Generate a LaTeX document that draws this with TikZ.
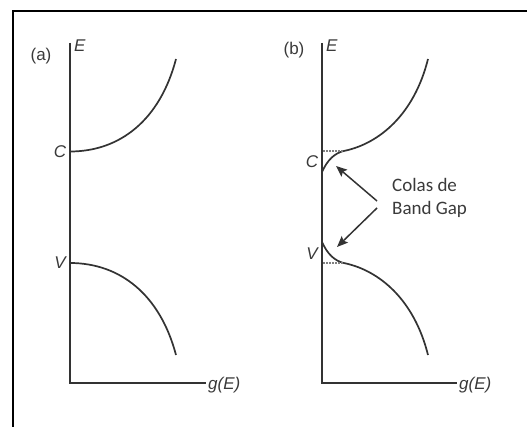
\documentclass[tikz,border=0pt]{standalone}
\usepackage{fontspec}
\setmainfont{Liberation Sans}
\newfontfamily\calfont{Carlito}
\usetikzlibrary{arrows.meta}
\definecolor{ink}{HTML}{333333}
\definecolor{txt}{HTML}{3A3A3A}
\tikzset{
  axisline/.style={draw=ink,line width=1.8pt},
  band/.style={draw=ink,line width=1.7pt},
  tailmark/.style={draw=gray,line width=1.3pt,dash pattern=on 1.5pt off 1.5pt},
  lbl/.style={text=txt,font=\fontsize{17}{20}\selectfont\itshape,inner sep=0pt},
  plbl/.style={text=txt,font=\fontsize{17}{20}\selectfont,inner sep=0pt},
  note/.style={text=txt,font=\calfont\fontsize{19}{23.5}\selectfont,align=left,inner sep=0pt},
  pointer/.style={draw=ink,line width=1.5pt,-{Stealth[length=11pt,width=9pt,inset=2pt]}}
}
\begin{document}
\begin{tikzpicture}[x=1pt,y=-1pt]
\useasboundingbox (0,0) rectangle (527,427);
% frame
\coordinate (f1) at (13,427);
\coordinate (f2) at (13,11);
\coordinate (f3) at (527,11);
\draw[line width=2.8pt,black] (f1) -- (f2) -- (f3);

% ---------- panel (a)
\coordinate (a0) at (70,383);
\coordinate (aT) at (70,43);
\coordinate (aR) at (206,383);
\draw[axisline] (aT) -- (a0) -- (aR);
\node[plbl] (alab) at (41,56) {(a)};
\node[lbl,anchor=west] (aE) at (74,46) {E};
\node[lbl,anchor=west] (ag) at (208,385) {g(E)};
\node[lbl] (aC) at (60,152) {C};
\node[lbl] (aV) at (60,263) {V};
\coordinate (aCb) at (70,151.5);
\coordinate (aCe) at (176,59);
\coordinate (aVb) at (70,263);
\coordinate (aVe) at (176,355);
\draw[band] (aCb) .. controls (120,151.5) and (160,120) .. (aCe);
\draw[band] (aVb) .. controls (120,263) and (160,294.5) .. (aVe);

% ---------- panel (b)
\coordinate (b0) at (322,383);
\coordinate (bT) at (322,43);
\coordinate (bR) at (457,383);
\draw[axisline] (bT) -- (b0) -- (bR);
\node[plbl] (blab) at (294,50) {(b)};
\node[lbl,anchor=west] (bE) at (326,46) {E};
\node[lbl,anchor=west] (bg) at (459,385) {g(E)};
\node[lbl] (bC) at (312,162) {C};
\node[lbl] (bV) at (312,254) {V};
% conduction band with tail
\coordinate (bCt) at (322,172);
\coordinate (bCm) at (346,150.5);
\coordinate (bCe) at (428,59);
\draw[band] (bCt) .. controls (327,161) and (334,152.5) .. (bCm)
  .. controls (379,143) and (414,115) .. (bCe);
% valence band with tail
\coordinate (bVt) at (322,242);
\coordinate (bVm) at (346,263.5);
\coordinate (bVe) at (428,355);
\draw[band] (bVt) .. controls (327,253) and (334,261.5) .. (bVm)
  .. controls (379,271) and (414,299) .. (bVe);
% dotted band edges
\coordinate (dC1) at (323,151);
\coordinate (dC2) at (343,151);
\coordinate (dV1) at (323,263);
\coordinate (dV2) at (343,263);
\draw[tailmark] (dC1) -- (dC2);
\draw[tailmark] (dV1) -- (dV2);

% note and arrows
\node[note,anchor=north west] (note) at (392,178) {Colas de\\Band Gap};
\coordinate (p1s) at (377,201);
\coordinate (p1e) at (336,166);
\coordinate (p2s) at (377,208);
\coordinate (p2e) at (337,247);
\draw[pointer] (p1s) -- (p1e);
\draw[pointer] (p2s) -- (p2e);
\end{tikzpicture}
\end{document}
